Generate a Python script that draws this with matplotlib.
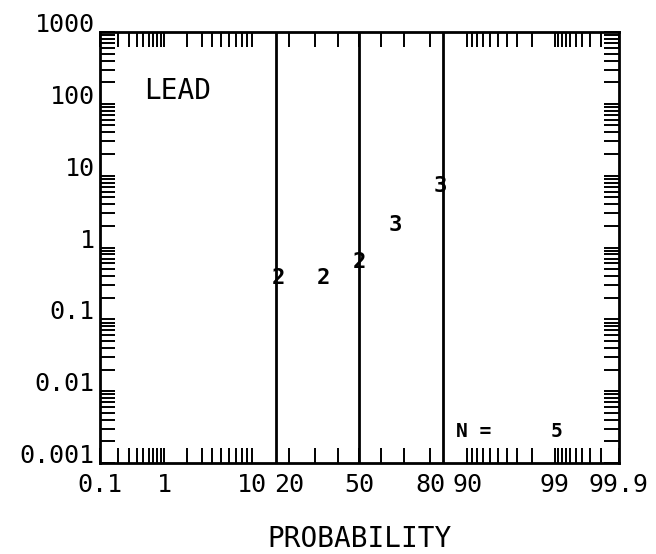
import numpy as np
import matplotlib
matplotlib.use("Agg")
import matplotlib.pyplot as plt
from matplotlib.ticker import FixedLocator, LogLocator, NullFormatter
from statistics import NormalDist

# ---- data ----
prob = [16.67, 33.33, 50.0, 66.67, 83.33]          # plotting positions (%)
conc = [0.38, 0.38, 0.62, 2.08, 7.25]              # concentration
codes = ["2", "2", "2", "3", "3"]                  # symbol codes
ref_lines = [15.87, 50.0, 84.13]                   # mean -/+ 1 sd
x_major = [0.1, 1, 10, 20, 50, 80, 90, 99, 99.9]
x_major_labels = ["0.1", "1", "10", "20", "50", "80", "90", "99", "99.9"]
x_minor = [0.2, 0.3, 0.4, 0.5, 0.6, 0.7, 0.8, 0.9,
           2, 3, 4, 5, 6, 7, 8, 9,
           30, 40, 60, 70,
           91, 92, 93, 94, 95, 96, 97, 98,
           99.1, 99.2, 99.3, 99.4, 99.5, 99.6, 99.7, 99.8]
y_major = [0.001, 0.01, 0.1, 1, 10, 100, 1000]
y_major_labels = ["0.001", "0.01", "0.1", "1", "10", "100", "1000"]
title_text = "LEAD"
n_text = "N ="
n_value = "5"
x_title = "PROBABILITY"

nd = NormalDist()
_ppf = np.vectorize(nd.inv_cdf, otypes=[float])
_cdf = np.vectorize(nd.cdf, otypes=[float])


def fwd(p):
    p = np.asarray(p, dtype=float)
    q = np.clip(p / 100.0, 1e-9, 1 - 1e-9)
    return _ppf(q)


def inv(z):
    z = np.asarray(z, dtype=float)
    return _cdf(z) * 100.0


FONT = "DejaVu Sans Mono"
plt.rcParams["font.family"] = FONT

fig = plt.figure(figsize=(6.56, 5.54), dpi=100)
ax = fig.add_axes([100 / 656, 1 - 463 / 554, 519 / 656, 431 / 554])

ax.set_xscale("function", functions=(fwd, inv))
ax.set_yscale("log")
ax.set_xlim(0.1, 99.9)
ax.set_ylim(0.001, 1000)

for xv in ref_lines:
    ax.axvline(xv, color="black", lw=2.0)

for p, c, s in zip(prob, conc, codes):
    ax.text(p, c, s, ha="center", va="center", fontsize=16,
            fontweight="bold", color="black", family=FONT)

ax.xaxis.set_major_locator(FixedLocator(x_major))
ax.xaxis.set_minor_locator(FixedLocator(x_minor))
ax.set_xticklabels(x_major_labels)
ax.xaxis.set_minor_formatter(NullFormatter())

ax.yaxis.set_major_locator(FixedLocator(y_major))
ax.yaxis.set_minor_locator(LogLocator(base=10, subs=np.arange(2, 10), numticks=20))
ax.yaxis.set_minor_formatter(NullFormatter())
ax.set_yticklabels(y_major_labels)

ax.tick_params(which="both", direction="in", top=True, right=True,
               length=10.5, width=1.4, color="black")
ax.tick_params(axis="x", which="major", labelsize=18, pad=7)
ax.tick_params(axis="y", which="major", labelsize=18, pad=4)
plt.setp(ax.get_yticklabels(), va="baseline")

for sp in ax.spines.values():
    sp.set_linewidth(2.0)

ax.text(0.085, 0.863, title_text, transform=ax.transAxes, ha="left",
        va="center", fontsize=20)
ax.text(0.686, 0.072, n_text, transform=ax.transAxes, ha="left",
        va="center", fontsize=14, fontweight="bold")
ax.text(0.879, 0.072, n_value, transform=ax.transAxes, ha="center",
        va="center", fontsize=14, fontweight="bold")

ax.set_xlabel(x_title, fontsize=20)
ax.xaxis.set_label_coords(0.5, -(539 - 463) / 431)
ax.xaxis.label.set_va("center")

fig.savefig("out.png", dpi=100)
